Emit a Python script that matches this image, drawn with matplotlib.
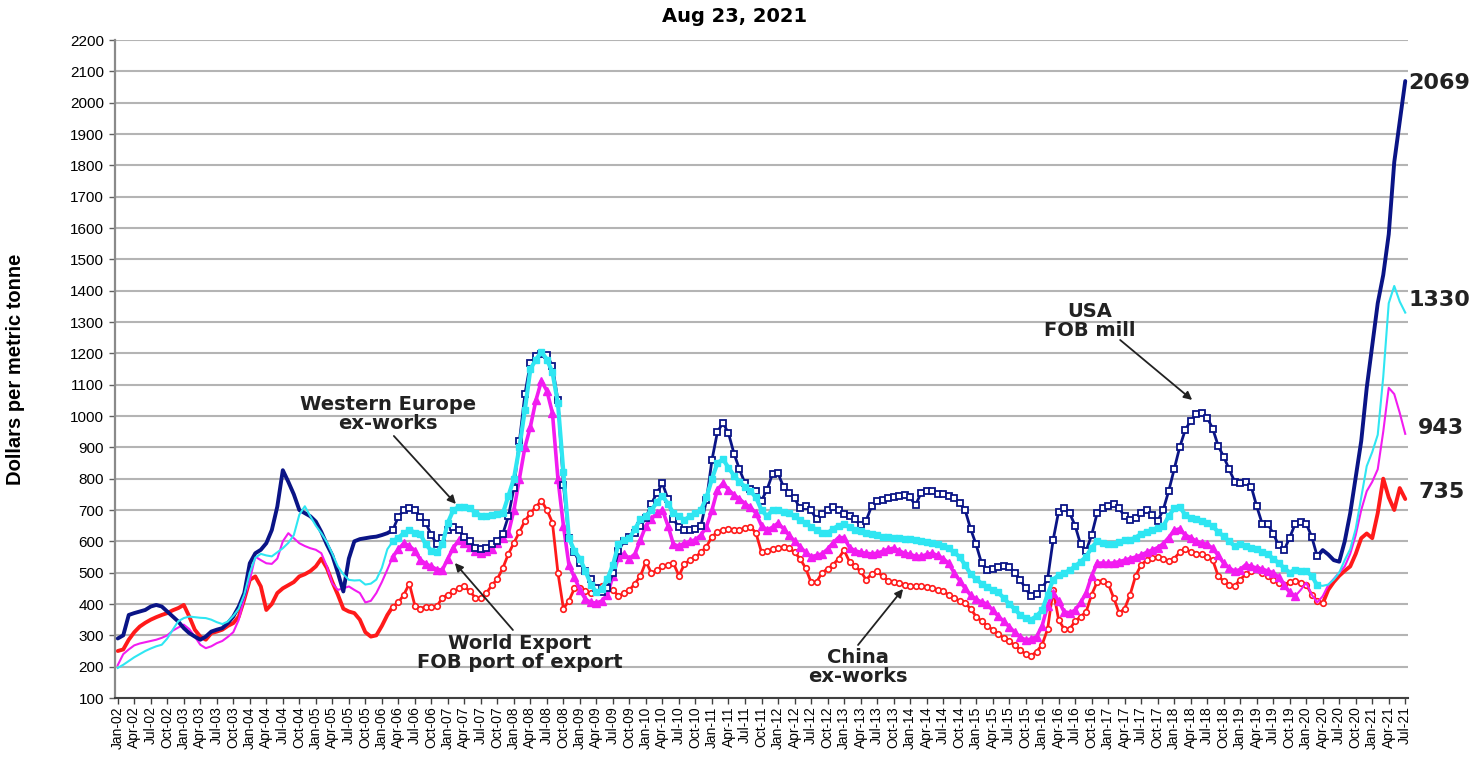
import matplotlib
matplotlib.use("Agg")
import matplotlib.pyplot as plt
import numpy as np

# ---------------- data (monthly, Jan-02 .. Jul-21), US$ per metric tonne ----------------
usa_fob_mill = [
    290, 300, 365, 371, 376, 381, 392, 397, 392, 376, 360, 344,      # 2002
    323, 307, 296, 286, 296, 312, 318, 323, 339, 360, 392, 435,      # 2003
    530, 562, 573, 594, 636, 711, 827, 790, 750, 700, 690, 680,      # 2004
    663, 630, 590, 555, 500, 440, 545, 600, 607, 610, 613, 615,      # 2005
    620, 626, 636, 679, 700, 705, 700, 679, 658, 620, 590, 610,      # 2006
    636, 645, 636, 615, 602, 580, 575, 578, 590, 600, 625, 680,      # 2007
    770, 920, 1070, 1170, 1190, 1199, 1195, 1160, 1050, 780, 610, 565,  # 2008
    530, 505, 480, 450, 437, 450, 500, 570, 600, 615, 626, 650,      # 2009
    675, 720, 755, 785, 735, 670, 645, 636, 636, 640, 650, 732,      # 2010
    860, 950, 978, 945, 880, 830, 785, 768, 760, 730, 765, 815,      # 2011
    817, 774, 755, 738, 705, 712, 700, 670, 688, 700, 710, 700,      # 2012
    688, 680, 670, 652, 665, 712, 728, 732, 738, 743, 746, 748,      # 2013
    740, 715, 755, 762, 760, 752, 750, 746, 738, 722, 700, 640,      # 2014
    590, 530, 510, 512, 518, 522, 518, 500, 477, 450, 425, 432,      # 2015
    450, 480, 604, 695, 705, 690, 650, 590, 570, 620, 690, 705,      # 2016
    712, 720, 705, 680, 668, 675, 690, 700, 683, 665, 700, 760,      # 2017
    830, 900, 955, 985, 1005, 1010, 995, 960, 905, 870, 830, 790,    # 2018
    785, 790, 775, 712, 656, 656, 625, 587, 572, 612, 656, 662,      # 2019
    656, 615, 552, 572, 558, 540, 535, 600, 690, 805, 920, 1090,     # 2020
    1225, 1360, 1450, 1580, 1810, 1940, 2069,                        # 2021
]

western_europe = [
    196, 206, 218, 230, 240, 250, 258, 265, 270, 290, 318, 345,
    355, 360, 358, 356, 355, 350, 342, 336, 344, 362, 385, 430,
    500, 548, 560, 555, 552, 565, 578, 595, 620, 685, 712, 680,
    650, 626, 598, 560, 520, 495, 477, 475, 476, 462, 465, 478,
    515, 575, 600, 612, 626, 636, 628, 622, 590, 570, 565, 590,
    660, 700, 710, 708, 705, 692, 682, 680, 684, 688, 690, 745,
    800, 900, 1020, 1150, 1180, 1205, 1180, 1140, 1040, 820, 610, 570,
    545, 505, 462, 437, 448, 480, 525, 590, 604, 610, 640, 670,
    680, 700, 725, 745, 720, 690, 680, 668, 680, 690, 700, 740,
    800, 850, 862, 835, 810, 790, 774, 760, 740, 700, 680, 700,
    700, 695, 690, 680, 668, 658, 647, 636, 628, 626, 640, 650,
    655, 645, 636, 632, 628, 625, 620, 615, 613, 612, 610, 608,
    606, 604, 600, 597, 594, 590, 585, 578, 565, 550, 525, 495,
    480, 465, 455, 445, 437, 420, 400, 385, 365, 355, 350, 362,
    380, 430, 478, 492, 498, 508, 520, 535, 551, 580, 600, 595,
    592, 590, 598, 603, 605, 612, 624, 630, 637, 642, 648, 680,
    705, 710, 685, 675, 670, 665, 658, 648, 630, 616, 600, 585,
    590, 585, 578, 575, 565, 558, 545, 530, 515, 500, 510, 505,
    505, 490, 460, 458, 462, 478, 500, 540, 575, 640, 740, 840,
    885, 940, 1125, 1360, 1415, 1365, 1330,
]

world_export = [
    205, 240, 255, 268, 274, 278, 282, 286, 292, 300, 315, 325,
    334, 320, 296, 270, 259, 265, 275, 282, 295, 310, 350, 420,
    477, 551, 540, 530, 528, 545, 600, 626, 610, 594, 585, 578,
    573, 562, 520, 466, 445, 450, 456, 445, 435, 405, 410, 435,
    470, 510, 551, 575, 594, 585, 570, 541, 528, 520, 510, 509,
    545, 580, 604, 595, 583, 568, 562, 568, 575, 594, 610, 626,
    700, 800, 900, 966, 1050, 1112, 1080, 1010, 800, 650, 525, 485,
    445, 415, 405, 403, 410, 430, 490, 550, 560, 545, 560, 605,
    650, 672, 690, 700, 650, 590, 585, 594, 600, 605, 620, 647,
    700, 765, 785, 765, 748, 735, 720, 708, 690, 650, 636, 645,
    658, 640, 620, 600, 583, 565, 551, 555, 560, 575, 595, 612,
    612, 580, 570, 565, 562, 560, 562, 568, 575, 578, 570, 562,
    558, 553, 552, 558, 562, 555, 545, 530, 500, 475, 450, 428,
    415, 406, 400, 380, 362, 345, 328, 310, 295, 285, 288, 296,
    330, 395, 435, 410, 375, 372, 380, 405, 435, 490, 530, 531,
    530, 531, 535, 540, 545, 550, 556, 565, 572, 580, 592, 612,
    635, 640, 620, 612, 600, 595, 590, 578, 555, 530, 515, 505,
    510, 525, 520, 515, 512, 505, 500, 485, 460, 437, 425, 445,
    468, 430, 405, 425, 460, 480, 500, 520, 560, 620, 700, 760,
    790, 830, 950, 1090, 1070, 1010, 943,
]

china_ex_works = [
    250, 255, 286, 310, 328, 340, 350, 358, 365, 371, 380, 387,
    397, 360, 318, 296, 286, 307, 312, 318, 330, 339, 360, 415,
    477, 488, 456, 381, 400, 435, 450, 460, 470, 488, 495, 505,
    520, 545, 515, 470, 430, 385, 376, 371, 350, 310, 296, 300,
    330, 365, 392, 405, 430, 465, 395, 385, 392, 390, 393, 420,
    430, 440, 450, 456, 440, 420, 418, 435, 460, 480, 515, 560,
    595, 630, 665, 690, 710, 730, 700, 660, 500, 385, 410, 450,
    450, 440, 435, 445, 456, 450, 445, 425, 435, 445, 465, 490,
    535, 498, 508, 520, 525, 530, 490, 528, 540, 550, 565, 583,
    615, 630, 636, 638, 636, 636, 642, 647, 626, 565, 570, 575,
    578, 583, 578, 565, 545, 515, 470, 470, 500, 512, 525, 545,
    572, 535, 520, 505, 478, 495, 505, 488, 475, 470, 466, 462,
    458, 456, 456, 455, 450, 446, 440, 430, 418, 410, 403, 385,
    360, 345, 330, 318, 305, 292, 282, 268, 254, 240, 235, 248,
    270, 320, 445, 350, 320, 320, 345, 360, 375, 430, 470, 475,
    465, 420, 372, 385, 430, 490, 525, 540, 548, 550, 545, 537,
    545, 565, 575, 565, 560, 558, 550, 540, 490, 472, 462, 458,
    478, 495, 505, 512, 500, 490, 478, 468, 462, 470, 475, 468,
    462, 430, 410, 402, 445, 470, 490, 506, 520, 560, 610, 625,
    610, 690, 800, 740, 700, 770, 735,
]

tick_months = ["Jan", "Apr", "Jul", "Oct"]
tick_years = list(range(2002, 2022))
tick_labels = [f"{mo}-{yr % 100:02d}" for yr in tick_years for mo in tick_months][:79]

end_labels = ["2069", "1330", "943", "735"]

# ---------------- styling ----------------
NAVY = "#0a1486"
CYAN = "#2fe6f2"
MAGENTA = "#f21cf0"
RED = "#ff1a1a"

fig = plt.figure(figsize=(14.73, 7.61), dpi=100)
W, H = 1473, 761
ax = fig.add_axes([115 / W, 1 - 698 / H, (1408 - 115) / W, (698 - 40) / H])

n = len(usa_fob_mill)
x = np.arange(n)

ax.set_xlim(-0.5, n - 0.5)
ax.set_ylim(100, 2200)
ax.set_yticks(np.arange(100, 2201, 100))
ax.yaxis.grid(True, color="#b4b4b4", linewidth=1.5)
ax.set_axisbelow(True)

for s in ["top", "right"]:
    ax.spines[s].set_visible(False)
ax.spines["left"].set_color("#8a8a8a")
ax.spines["left"].set_linewidth(1.6)
ax.spines["bottom"].set_color("#404040")
ax.spines["bottom"].set_linewidth(1.5)


def seg(data, a, b):
    a = max(a, 0)
    b = min(b, len(data) - 1)
    return x[a:b + 1], np.array(data[a:b + 1], dtype=float)


MS = 50  # markers start (mid-2006)

# China (red): thick plain line, hollow small markers in middle period
for a, b in [(0, MS), (219, n - 1)]:
    xx, yy = seg(china_ex_works, a, b)
    ax.plot(xx, yy, color=RED, lw=2.8, zorder=2, solid_capstyle="round")
xx, yy = seg(china_ex_works, MS, 219)
ax.plot(xx, yy, color=RED, lw=2.0, marker="o", ms=4.0, mfc="white", mec=RED,
        mew=1.2, zorder=2)

# World export (magenta)
for a, b in [(0, MS), (214, n - 1)]:
    xx, yy = seg(world_export, a, b)
    ax.plot(xx, yy, color=MAGENTA, lw=1.5, zorder=3)
xx, yy = seg(world_export, MS, 214)
ax.plot(xx, yy, color=MAGENTA, lw=2.6, marker="^", ms=5.2, mfc=MAGENTA, mec=MAGENTA,
        zorder=3)

# USA (navy)
for a, b in [(0, MS), (218, n - 1)]:
    xx, yy = seg(usa_fob_mill, a, b)
    ax.plot(xx, yy, color=NAVY, lw=2.8, zorder=4, solid_capstyle="round")
xx, yy = seg(usa_fob_mill, MS, 218)
ax.plot(xx, yy, color=NAVY, lw=2.0, marker="s", ms=5.0, mfc="white", mec=NAVY,
        mew=1.3, zorder=4)

# Western Europe (cyan)
for a, b in [(0, MS), (218, n - 1)]:
    xx, yy = seg(western_europe, a, b)
    ax.plot(xx, yy, color=CYAN, lw=1.5, zorder=5)
xx, yy = seg(western_europe, MS, 218)
ax.plot(xx, yy, color=CYAN, lw=3.0, marker="s", ms=5, mfc=CYAN, mec=CYAN, zorder=5)

# ---------------- axes ticks ----------------
ax.set_xticks(np.arange(0, 3 * len(tick_labels), 3))
ax.set_xticklabels(tick_labels, rotation=90, fontsize=10, family="Liberation Sans")
ax.tick_params(axis="x", length=4, width=1, color="#404040", pad=2)
ax.tick_params(axis="y", length=4, width=1, color="#606060", pad=4)
for lab in ax.get_yticklabels():
    lab.set_family("Liberation Sans")
    lab.set_fontsize(11)

ax.set_ylabel("Dollars per metric tonne", fontsize=14.5, fontweight="bold",
              family=["Liberation Sans Narrow", "Liberation Sans"])
ax.yaxis.set_label_coords((25 - 115) / 1293, 0.5)

fig.text(0.499, 0.978, "Aug 23, 2021", ha="center", va="center", fontsize=14,
         fontweight="bold", family="DejaVu Sans")

# ---------------- annotations ----------------
def px2data(px, py):
    return (px - 118) / 5.5, 100 + (698 - py) / 0.3133

ann_font = dict(fontsize=14, fontweight="bold", family="DejaVu Sans", color="#222222",
                ha="center", va="center", linespacing=1.0)
arrow = dict(arrowstyle="-|>", color="#222222", lw=1.3, mutation_scale=12,
             shrinkA=0, shrinkB=0)

def note(text, text_px, start_px, tip_px):
    tx, ty = px2data(*text_px)
    ax.text(tx, ty, text, zorder=10, **ann_font)
    ax.annotate("", xy=px2data(*tip_px), xytext=px2data(*start_px),
                arrowprops=arrow, zorder=10)

note("Western Europe\nex-works", (388, 414), (394, 436), (456, 504))
note("World Export\nFOB port of export", (520, 653), (513, 630), (455, 563))
note("China\nex-works", (858, 667), (858, 645), (903, 589))
note("USA\nFOB mill", (1090, 321), (1120, 340), (1192, 400))

lab_font = dict(fontsize=16, fontweight="bold", family="DejaVu Sans", color="#222222",
                va="center", ha="left", clip_on=False)
for txt, (px, py) in zip(end_labels, [(1408, 83), (1408, 300), (1418, 428), (1418, 492)]):
    tx, ty = px2data(px, py)
    ax.text(tx, ty, txt, **lab_font)

fig.savefig("out.png", dpi=100)
